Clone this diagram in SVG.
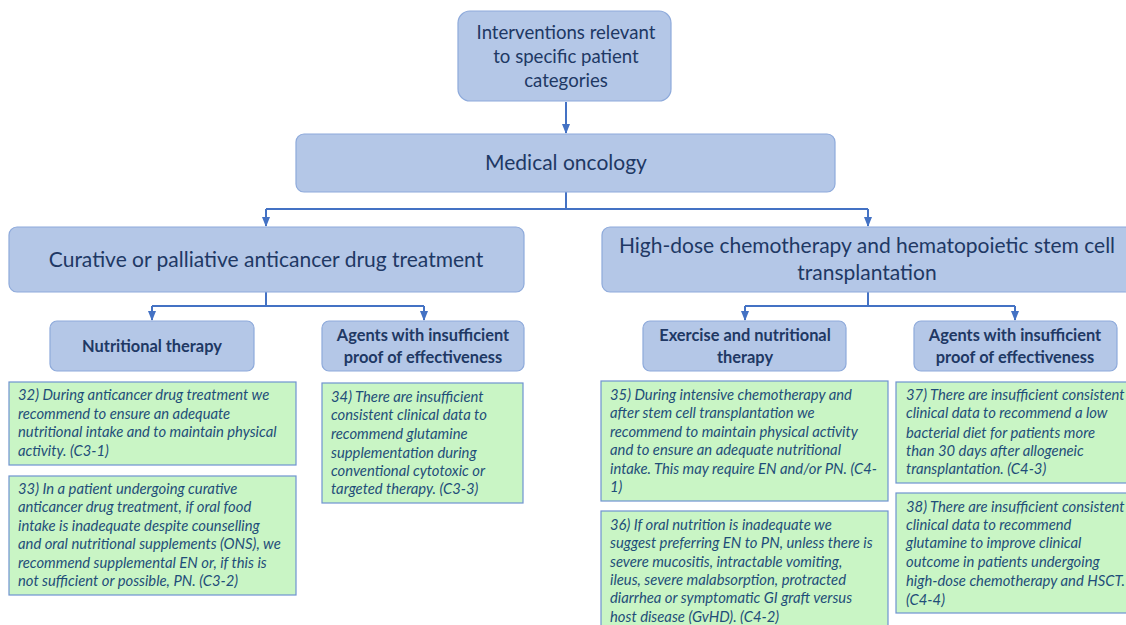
<svg xmlns="http://www.w3.org/2000/svg" width="1126" height="625" viewBox="0 0 1126 625">
<defs>
<style>
.n{fill:#b4c7e7;stroke:#8eaadb;stroke-width:1.2}
.g{fill:#c9f5c5;stroke:#6f93d0;stroke-width:1.2}
.t{font-family:Lato,"Liberation Sans",sans-serif;fill:#203864;text-anchor:middle}
.b{font-weight:bold;font-size:16.4px}
.i{font-family:Lato,"Liberation Sans",sans-serif;font-style:italic;font-size:14.8px;fill:#1f4e79}
.c{fill:none;stroke:#4472c4;stroke-width:2}
</style>
<marker id="a" viewBox="0 0 10 10" refX="9" refY="5" markerWidth="5" markerHeight="5" orient="auto"><path d="M0,1 L10,5 L0,9 z" fill="#4472c4"/></marker>
</defs>
<rect width="1126" height="625" fill="#ffffff"/>
<g id="connectors">
<path class="c" d="M566,102 V133" marker-end="url(#a)"/>
<path class="c" d="M566,192 V209 M266,209 H868"/>
<path class="c" d="M266,209 V226" marker-end="url(#a)"/>
<path class="c" d="M868,209 V226" marker-end="url(#a)"/>
<path class="c" d="M266,292 V306 M152,306 H424"/>
<path class="c" d="M152,306 V320" marker-end="url(#a)"/>
<path class="c" d="M424,306 V320" marker-end="url(#a)"/>
<path class="c" d="M868,292 V306 M745,306 H1015"/>
<path class="c" d="M745,306 V320" marker-end="url(#a)"/>
<path class="c" d="M1015,306 V320" marker-end="url(#a)"/>
</g>
<g id="n-root"><rect class="n" x="458" y="11" width="213" height="90" rx="12"/>
<text class="t" font-size="18.6" x="566"><tspan x="566" y="39">Interventions relevant</tspan><tspan x="566" y="63">to specific patient</tspan><tspan x="566" y="87">categories</tspan></text></g>
<g id="n-medical"><rect class="n" x="296" y="134" width="539" height="58" rx="8"/>
<text class="t" font-size="21" x="566" y="170">Medical oncology</text></g>
<g id="n-curative"><rect class="n" x="9" y="227" width="515" height="65" rx="8"/>
<text class="t" font-size="21" x="266" y="267">Curative or palliative anticancer drug treatment</text></g>
<g id="n-highdose"><rect class="n" x="602" y="227" width="530" height="65" rx="8"/>
<text class="t" font-size="21"><tspan x="867" y="253">High-dose chemotherapy and hematopoietic stem cell</tspan><tspan x="867" y="280">transplantation</tspan></text></g>
<g id="n-nutr"><rect class="n" x="50" y="321" width="204" height="50" rx="7"/>
<text class="t b" x="152" y="352">Nutritional therapy</text></g>
<g id="n-agents1"><rect class="n" x="322" y="321" width="202" height="50" rx="7"/>
<text class="t b"><tspan x="423" y="341">Agents with insufficient</tspan><tspan x="423" y="363">proof of effectiveness</tspan></text></g>
<g id="n-exercise"><rect class="n" x="643" y="321" width="203" height="50" rx="7"/>
<text class="t b"><tspan x="745" y="341">Exercise and nutritional</tspan><tspan x="745" y="363">therapy</tspan></text></g>
<g id="n-agents2"><rect class="n" x="914" y="321" width="203" height="50" rx="7"/>
<text class="t b"><tspan x="1015" y="341">Agents with insufficient</tspan><tspan x="1015" y="363">proof of effectiveness</tspan></text></g>
<g id="r32"><rect class="g" x="9" y="382" width="287" height="83"/>
<text class="i"><tspan x="18" y="400">32) During anticancer drug treatment we</tspan><tspan x="18" y="419">recommend to ensure an adequate</tspan><tspan x="18" y="437">nutritional intake and to maintain physical</tspan><tspan x="18" y="456">activity. (C3-1)</tspan></text></g>
<g id="r33"><rect class="g" x="9" y="476" width="287" height="119"/>
<text class="i"><tspan x="18" y="494">33) In a patient undergoing curative</tspan><tspan x="18" y="512">anticancer drug treatment, if oral food</tspan><tspan x="18" y="531">intake is inadequate despite counselling</tspan><tspan x="18" y="549">and oral nutritional supplements (ONS), we</tspan><tspan x="18" y="568">recommend supplemental EN or, if this is</tspan><tspan x="18" y="586">not sufficient or possible, PN. (C3-2)</tspan></text></g>
<g id="r34"><rect class="g" x="322" y="383" width="201" height="120"/>
<text class="i"><tspan x="331" y="402">34) There are insufficient</tspan><tspan x="331" y="420">consistent clinical data to</tspan><tspan x="331" y="439">recommend glutamine</tspan><tspan x="331" y="458">supplementation during</tspan><tspan x="331" y="476">conventional cytotoxic or</tspan><tspan x="331" y="494">targeted therapy. (C3-3)</tspan></text></g>
<g id="r35"><rect class="g" x="601" y="381" width="287" height="120"/>
<text class="i"><tspan x="610" y="400">35) During intensive chemotherapy and</tspan><tspan x="610" y="418">after stem cell transplantation we</tspan><tspan x="610" y="437">recommend to maintain physical activity</tspan><tspan x="610" y="455">and to ensure an adequate nutritional</tspan><tspan x="610" y="474">intake. This may require EN and/or PN. (C4-</tspan><tspan x="610" y="492">1)</tspan></text></g>
<g id="r36"><rect class="g" x="601" y="511" width="287" height="120"/>
<text class="i"><tspan x="610" y="530">36) If oral nutrition is inadequate we</tspan><tspan x="610" y="548">suggest preferring EN to PN, unless there is</tspan><tspan x="610" y="567">severe mucositis, intractable vomiting,</tspan><tspan x="610" y="585">ileus, severe malabsorption, protracted</tspan><tspan x="610" y="603">diarrhea or symptomatic GI graft versus</tspan><tspan x="610" y="622">host disease (GvHD).  (C4-2)</tspan></text></g>
<g id="r37"><rect class="g" x="896" y="382" width="240" height="101"/>
<text class="i"><tspan x="906" y="400">37) There are insufficient consistent</tspan><tspan x="906" y="418">clinical data to recommend a low</tspan><tspan x="906" y="438">bacterial diet for patients more</tspan><tspan x="906" y="456">than 30 days after allogeneic</tspan><tspan x="906" y="474">transplantation. (C4-3)</tspan></text></g>
<g id="r38"><rect class="g" x="896" y="493" width="240" height="120"/>
<text class="i"><tspan x="906" y="512">38) There are insufficient consistent</tspan><tspan x="906" y="530">clinical data to recommend</tspan><tspan x="906" y="548">glutamine to improve clinical</tspan><tspan x="906" y="567">outcome in patients undergoing</tspan><tspan x="906" y="586">high-dose chemotherapy and HSCT.</tspan><tspan x="906" y="605">(C4-4)</tspan></text></g>
</svg>
